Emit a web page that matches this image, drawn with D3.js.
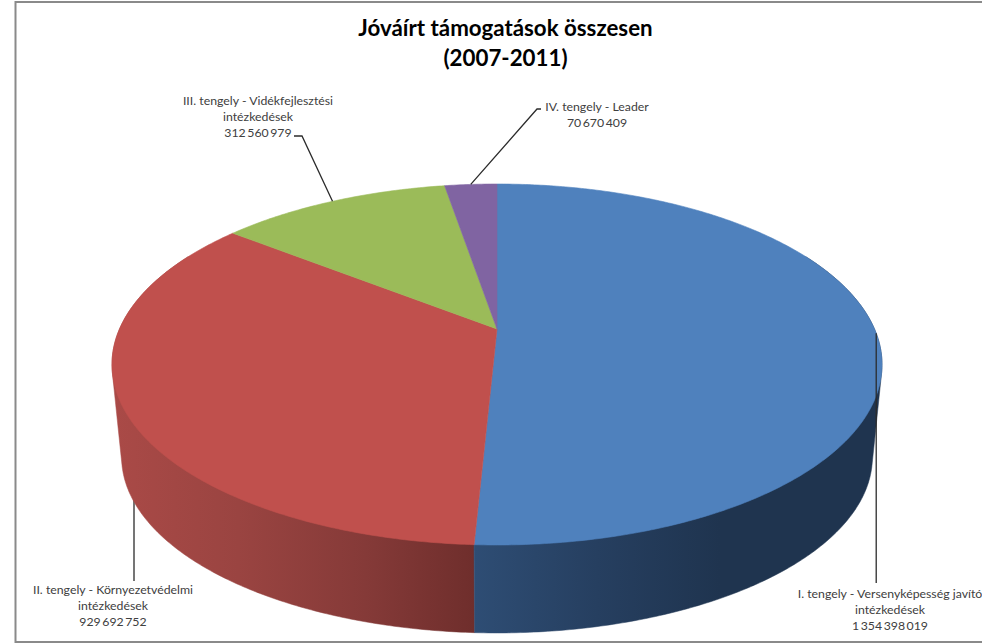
<!DOCTYPE html>
<html><head><meta charset="utf-8">
<script src="https://cdn.jsdelivr.net/npm/d3@7/dist/d3.min.js"></script>
<style>html,body{margin:0;padding:0;background:#fff;overflow:hidden}svg{display:block}text{font-family:Lato,"Open Sans",sans-serif}</style>
</head><body><svg id="chart" width="982" height="643"></svg>
<script>
const categories = [["I. tengely - Versenyképesség javító","intézkedések"],["II. tengely - Környezetvédelmi","intézkedések"],["III. tengely - Vidékfejlesztési","intézkedések"],["IV. tengely - Leader"]];
const values = [1354398019, 929692752, 312560979, 70670409];
const colors = ["#4f81bd","#c0504d","#9bbb59","#8064a2"];
const titleLines = ["Jóváírt támogatások összesen","(2007-2011)"];

// layout, separate from the data
const labelCenterX = [890, 113, 258, 597];
const labelFirstY  = [598, 594, 105, 111];
const lineH = 16;
const cx = 497, cy = 329, B = 377.5, A = 173.5, persp = -0.1967, wallScale = 0.975, wallDy = 101.6;

const fmt = d3.formatLocale({decimal:",",thousands:"\u2009",grouping:[3],currency:["",""]}).format(",d");
const svg = d3.select("#chart");
const defs = svg.append("defs");

// projective mapping of the unit disc (angle clockwise from the top)
function rimTop(t){const u=Math.sin(t),v=-Math.cos(t),d=1+persp*v;return [cx+B*u/d,cy+A*v/d];}
function rimBottom(t){const [x,y]=rimTop(t);return [cx+(x-cx)*wallScale,y*wallScale+wallDy];}
const arcs = d3.pie().sort(null).value(d=>d)(values);
const pathLine = d3.line();
function sweep(a,b,f){const n=Math.max(2,Math.ceil(Math.abs(b-a)/0.01));return d3.range(n+1).map(i=>f(a+(b-a)*i/n));}

// frame
svg.append("path").attr("fill","none").attr("stroke","#8a8a8a").attr("stroke-width",2).attr("d","M982,2H15.5V642H982");

// gradients of the wall
const grad=(id,x1,x2,stops)=>{const g=defs.append("linearGradient").attr("id",id).attr("gradientUnits","userSpaceOnUse").attr("x1",x1).attr("x2",x2).attr("y1",0).attr("y2",0);
 stops.forEach(([o,col])=>g.append("stop").attr("offset",o).attr("stop-color",col));};
grad("wallBlue",474,720,[[0,"#2e4d74"],[0.5,"#263f60"],[1,"#1f344f"]]);
grad("wallRed",112,474,[[0,"#aa4a47"],[0.35,"#9a4441"],[0.7,"#853a38"],[1,"#6f2e2c"]]);

// leader for the II label lies behind the pie
const leaderColor="#2b2b2b";
const mid=a=>(a.startAngle+a.endAngle)/2;
svg.append("line").attr("x1",134).attr("x2",134).attr("y1",rimTop(mid(arcs[1]))[1]).attr("y2",581).attr("stroke",leaderColor).attr("stroke-width",1.3);

// walls: convex hull of the two rim arcs, so the silhouette tangents are included
const PI=Math.PI;
const wall=(a,b,fill)=>svg.append("path").attr("fill",fill).attr("stroke",fill).attr("stroke-width",0.5).attr("d",pathLine(d3.polygonHull(sweep(a,b,rimTop).concat(sweep(a,b,rimBottom))))+"Z");
wall(arcs[1].startAngle,PI*1.65,"url(#wallRed)");
wall(PI*0.35,arcs[0].endAngle,"url(#wallBlue)");

// top slices
svg.append("g").selectAll("path").data(arcs).join("path")
 .attr("fill",(d,i)=>colors[i]).attr("stroke",(d,i)=>colors[i]).attr("stroke-width",0.6)
 .attr("d",d=>pathLine([[cx,cy]].concat(sweep(d.startAngle,d.endAngle,rimTop)))+"Z");

// leaders from slice rim
const ll=svg.append("g").attr("fill","none").attr("stroke",leaderColor).attr("stroke-width",1.3);
{
 const p0=rimTop(mid(arcs[0]));
 ll.append("path").attr("d",pathLine([p0,[p0[0],583]]));
 const p2=rimTop(mid(arcs[2]));
 ll.append("path").attr("d",pathLine([p2,[302,136],[294,136]]));
 const p3=rimTop(mid(arcs[3]));
 ll.append("path").attr("d",pathLine([p3,[537,109],[541,109]]));
}

// labels
arcs.forEach((a,i)=>{
 const lines=categories[i].concat([fmt(values[i])]);
 const t=svg.append("text").attr("text-anchor","middle").attr("fill","#404040").attr("font-size",12.3);
 lines.forEach((s,j)=>t.append("tspan").attr("x",labelCenterX[i]).attr("y",labelFirstY[i]+j*lineH).text(s));
});

// title
svg.append("g").selectAll("text").data(titleLines).join("text")
 .attr("x",505.5).attr("y",(d,i)=>36+i*29.5).attr("text-anchor","middle")
 .attr("font-size",22.3).attr("font-weight",700).attr("fill","#000").text(d=>d);
</script></body></html>
